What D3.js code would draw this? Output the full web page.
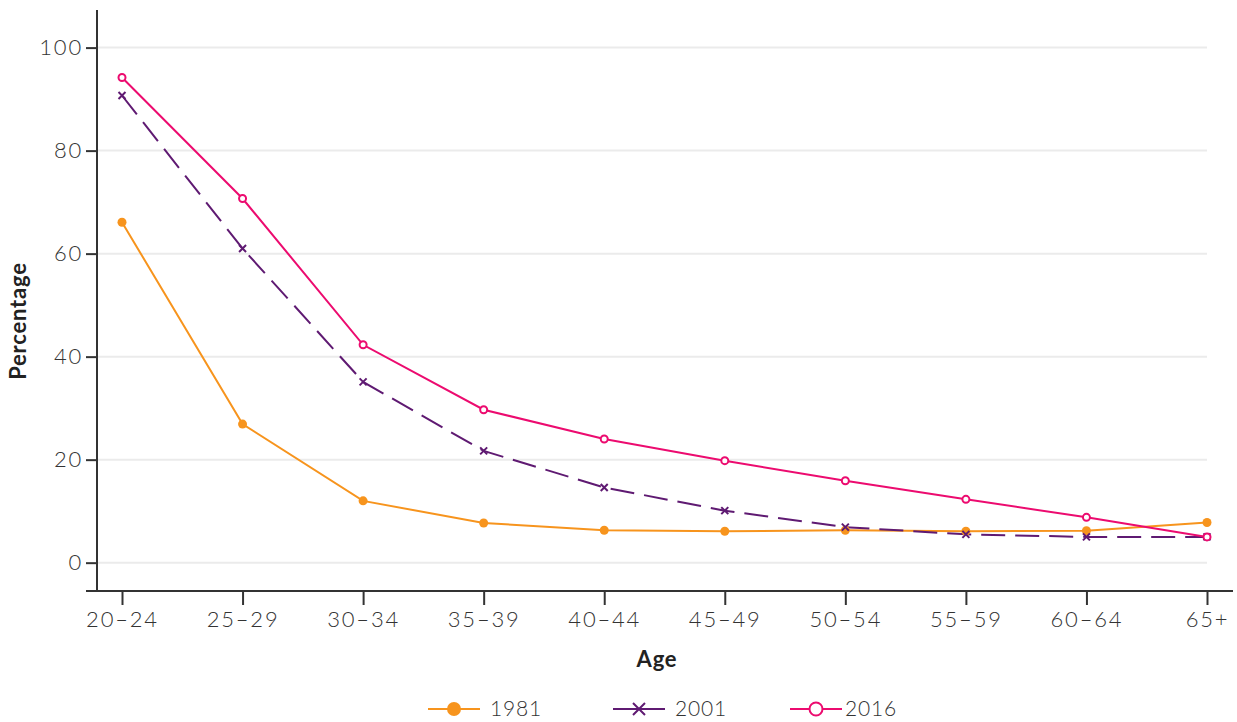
<!DOCTYPE html>
<html>
<head>
<meta charset="utf-8">
<script src="https://cdn.jsdelivr.net/npm/d3@7"></script>
<style>
  body { margin: 0; background: #fff; }
  svg { display: block; font-family: "Lato", "Open Sans", sans-serif; }
</style>
</head>
<body>
<div id="chart"></div>
<script>
// data
var ageGroups = ["20–24", "25–29", "30–34", "35–39", "40–44", "45–49", "50–54", "55–59", "60–64", "65+"];
var years = ["1981", "2001", "2016"];
var values1981 = [66.1, 26.9, 12.0, 7.7, 6.3, 6.1, 6.3, 6.1, 6.2, 7.8];
var values2001 = [90.7, 61.0, 35.1, 21.7, 14.6, 10.1, 6.9, 5.5, 5.0, 5.0];
var values2016 = [94.2, 70.7, 42.3, 29.7, 24.0, 19.8, 15.9, 12.3, 8.8, 5.0];
var yTicks = [0, 20, 40, 60, 80, 100];

var colors = { "1981": "#f7941d", "2001": "#5f1a72", "2016": "#ec0b6f" };

var width = 1237, height = 722;
var margin = { top: 10, right: 30, bottom: 131, left: 97 };
var innerW = width - margin.left - margin.right,
    innerH = height - margin.top - margin.bottom;

var svg = d3.select("#chart")
    .append("svg")
    .attr("width", width)
    .attr("height", height);

var g = svg.append("g")
    .attr("transform", "translate(" + margin.left + "," + margin.top + ")");

var x = d3.scalePoint()
    .domain(ageGroups)
    .range([25, 1110]);

var y = d3.scaleLinear()
    .domain([-5.5, 107.3])
    .range([innerH, 0]);

// gridlines
g.selectAll("line.grid")
    .data(yTicks)
    .enter()
    .append("line")
    .attr("class", "grid")
    .attr("x1", 0)
    .attr("x2", 1110)
    .attr("y1", d => y(d))
    .attr("y2", d => y(d))
    .style("stroke", "#ebebeb")
    .style("stroke-width", 2);

// y axis
var yAxis = g.append("g")
    .call(d3.axisLeft(y).tickValues(yTicks).tickSize(11).tickPadding(3));

yAxis.select(".domain").remove();
yAxis.append("line")
    .attr("x1", 0).attr("x2", 0)
    .attr("y1", 0).attr("y2", innerH)
    .style("stroke", "#333").style("stroke-width", 2);

// x axis
var xAxis = g.append("g")
    .attr("transform", "translate(0," + innerH + ")")
    .call(d3.axisBottom(x).tickSize(14).tickPadding(6));

xAxis.select(".domain").remove();
xAxis.append("line")
    .attr("x1", -11).attr("x2", innerW + 26)
    .attr("y1", 0).attr("y2", 0)
    .style("stroke", "#333").style("stroke-width", 2);

g.selectAll(".tick line").style("stroke", "#333").style("stroke-width", 2);
g.selectAll(".tick text")
    .style("font-size", "22px")
    .style("font-weight", "300")
    .style("letter-spacing", "1.8px")
    .style("fill", "#333")
    .style("font-family", "Lato, sans-serif");

// axis titles
svg.append("text")
    .attr("x", 657)
    .attr("y", 667)
    .attr("text-anchor", "middle")
    .style("font-size", "22px")
    .style("font-weight", "bold")
    .style("letter-spacing", "0.8px")
    .style("fill", "#222")
    .text("Age");

svg.append("text")
    .attr("transform", "translate(26,321) rotate(-90)")
    .attr("text-anchor", "middle")
    .style("font-size", "22px")
    .style("font-weight", "bold")
    .style("letter-spacing", "0.8px")
    .style("fill", "#222")
    .text("Percentage");

// series
var series = [
    { name: "1981", values: values1981, dash: null },
    { name: "2001", values: values2001, dash: "24,10" },
    { name: "2016", values: values2016, dash: null }
];

var line = d3.line()
    .x((d, i) => x(ageGroups[i]))
    .y(d => y(d));

series.forEach(function(s) {
    g.append("path")
        .datum(s.values)
        .attr("d", line)
        .style("fill", "none")
        .style("stroke", colors[s.name])
        .style("stroke-width", 2)
        .style("stroke-dasharray", s.dash);
});

function drawMarker(sel, name, size) {
    if (name == "1981") {
        sel.append("circle").attr("r", size)
            .style("fill", colors[name]);
    } else if (name == "2001") {
        sel.append("path")
            .attr("d", "M" + -size + "," + -size + "L" + size + "," + size + "M" + -size + "," + size + "L" + size + "," + -size)
            .style("stroke", colors[name])
            .style("stroke-width", 2);
    } else {
        sel.append("circle").attr("r", size)
            .style("fill", "#fff")
            .style("stroke", colors[name])
            .style("stroke-width", 2);
    }
}

var markerSize = { "1981": 4.5, "2001": 3.5, "2016": 3.5 };

series.forEach(function(s) {
    g.selectAll("g.m" + s.name)
        .data(s.values)
        .enter()
        .append("g")
        .attr("class", "m" + s.name)
        .attr("transform", (d, i) => "translate(" + x(ageGroups[i]) + "," + y(d) + ")")
        .each(function() { drawMarker(d3.select(this), s.name, markerSize[s.name]); });
});

// legend
var legendX = [428, 613, 790];
var legendSize = { "1981": 7, "2001": 6, "2016": 6.5 };
var legend = svg.selectAll("g.legend")
    .data(years)
    .enter()
    .append("g")
    .attr("class", "legend")
    .attr("transform", (d, i) => "translate(" + legendX[i] + ",709)");

legend.append("line")
    .attr("x1", 0).attr("x2", 52)
    .style("stroke", d => colors[d])
    .style("stroke-width", 2);

legend.each(function(d) {
    var m = d3.select(this).append("g").attr("transform", "translate(26,0)");
    drawMarker(m, d, legendSize[d]);
});

legend.append("text")
    .attr("x", d => d == "2016" ? 55 : 62)
    .attr("y", 7)
    .style("font-size", "21px")
    .style("font-weight", "300")
    .style("letter-spacing", "0.8px")
    .style("fill", "#333")
    .text(d => d);
</script>
</body>
</html>
